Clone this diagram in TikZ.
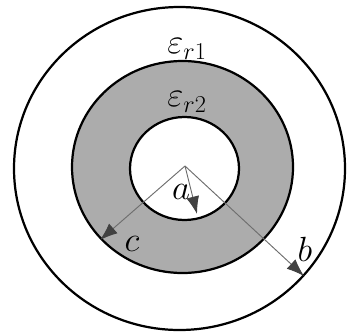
\documentclass[tikz,border=0pt]{standalone}
\usepackage{amsmath}
\usetikzlibrary{arrows.meta}
\definecolor{shellgray}{RGB}{172,172,172}
\definecolor{radiusgray}{RGB}{110,110,110}
\definecolor{tipgray}{RGB}{65,65,65}

\begin{document}
\begin{tikzpicture}[x=0.03cm,y=-0.03cm,
  boundary/.style={black, line width=1.9pt},
  radius/.style={radiusgray, line width=0.8pt, -{Latex[length=15pt,width=11pt,color=tipgray]}},
  lbl/.style={font=\fontsize{24}{28}\selectfont, inner sep=0pt, scale=1.2}]

\useasboundingbox (0,0) rectangle (348,332);

% the three boundaries, the middle shell is shaded
\draw[boundary] (179.5,168.5) ellipse (165.5 and 161.5);
\draw[boundary, fill=shellgray] (182.5,167) ellipse (110.5 and 106);
\draw[boundary, fill=white] (184.5,168.5) ellipse (54.5 and 51.5);

% centre and the end points of the radii
\coordinate (o) at (185,166);
\coordinate (ea) at (197,214);
\coordinate (ec) at (100,240);
\coordinate (eb) at (304,276);

\foreach \e in {ea,ec,eb}
  \draw[radius] (o) -- (\e);

%% we add the labels
\node[lbl] (la) at (181,192) {$a$};
\node[lbl] (lc) at (132,244) {$c$};
\node[lbl] (lb) at (305,249) {$b$};
\node[lbl] (er1) at (187,49) {$\varepsilon_{r1}$};
\node[lbl] (er2) at (187,102) {$\varepsilon_{r2}$};

\end{tikzpicture}
\end{document}
